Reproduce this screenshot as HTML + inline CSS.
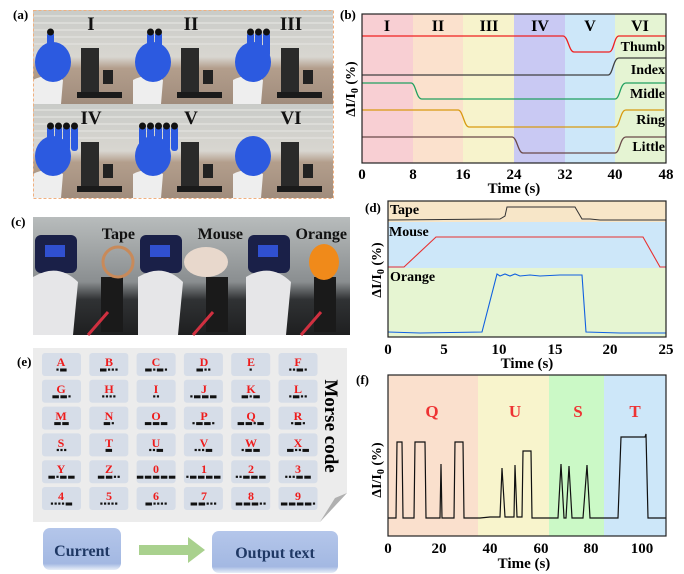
<!DOCTYPE html>
<html><head><meta charset="utf-8"><style>
html,body{margin:0;padding:0;background:#fff;width:684px;height:574px;overflow:hidden}
svg{display:block;font-family:"Liberation Serif",serif;font-weight:bold}
</style></head><body>
<svg id="s" width="684" height="574" viewBox="0 0 684 574" xmlns="http://www.w3.org/2000/svg">
<defs>
<linearGradient id="btn" x1="0" y1="0" x2="0" y2="1"><stop offset="0" stop-color="#b4c6ea"/><stop offset="0.85" stop-color="#a3b8e2"/><stop offset="1" stop-color="#e8eef8"/></linearGradient>
<linearGradient id="ph" x1="0" y1="0" x2="0" y2="1"><stop offset="0" stop-color="#c9cbc8"/><stop offset="0.5" stop-color="#d8d6d0"/><stop offset="0.62" stop-color="#b39e8c"/><stop offset="1" stop-color="#a08c7c"/></linearGradient>
<linearGradient id="ph2" x1="0" y1="0" x2="0" y2="1"><stop offset="0" stop-color="#b8bcbc"/><stop offset="0.55" stop-color="#8a8e90"/><stop offset="0.7" stop-color="#303234"/><stop offset="1" stop-color="#1e1f20"/></linearGradient>
</defs>

<text x="13" y="19" font-size="13">(a)</text>
<text x="340" y="19" font-size="13">(b)</text>
<text x="11" y="226" font-size="13">(c)</text>
<text x="365" y="212" font-size="13">(d)</text>
<text x="17" y="366" font-size="13">(e)</text>
<text x="356" y="384" font-size="13">(f)</text>

<g id="pa"></g>
<rect x="33.5" y="10.5" width="300" height="188" fill="none" stroke="#f0b080" stroke-dasharray="3,2"/>
<g id="pc"></g>

<!-- (b) -->
<g>
<rect x="362" y="14" width="51" height="149" fill="#f8cfd3"/>
<rect x="413" y="14" width="50" height="149" fill="#fbe1cd"/>
<rect x="463" y="14" width="51" height="149" fill="#f7f3cc"/>
<rect x="514" y="14" width="51" height="149" fill="#c9c9f3"/>
<rect x="565" y="14" width="50" height="149" fill="#cde7f9"/>
<rect x="615" y="14" width="51" height="149" fill="#e5f4d3"/>
<g font-size="16" text-anchor="middle"><text x="387" y="31">I</text><text x="438" y="31">II</text><text x="489" y="31">III</text><text x="540" y="31">IV</text><text x="590" y="31">V</text><text x="640" y="31">VI</text></g>
<g fill="none" stroke-width="1.3">
<path d="M362 36 L563 36 C568 36 569 52 574 52 L609 52 C614 52 614 36 619 36 L666 36" stroke="#f02020"/>
<path d="M362 75 L608 75 C613 75 613 58 619 58 L666 58" stroke="#404040"/>
<path d="M362 83 L411 83 C416 83 416 99 422 99 L615 99 C620 99 620 83 626 83 L666 83" stroke="#20a060"/>
<path d="M362 110 L458 110 C463 110 464 127 469 127 L615 127 C620 127 620 110 626 110 L664 110" stroke="#d89a10"/>
<path d="M362 137 L512 137 C517 137 518 153 523 153 L615 153 C620 153 620 137 626 137 L666 137" stroke="#6a4a4a"/>
</g>
<g font-size="14" text-anchor="end"><text x="665" y="51">Thumb</text><text x="665" y="74">Index</text><text x="665" y="98">Midle</text><text x="665" y="124">Ring</text><text x="665" y="151">Little</text></g>
<rect x="362" y="14" width="304" height="149" fill="none" stroke="#222" stroke-width="1.2"/>
<g font-size="15" text-anchor="middle"><text x="362" y="179">0</text><text x="413" y="179">8</text><text x="463" y="179">16</text><text x="514" y="179">24</text><text x="565" y="179">32</text><text x="615" y="179">40</text><text x="666" y="179">48</text>
<text x="514" y="193">Time (s)</text></g>
<text transform="translate(355,89) rotate(-90)" font-size="14" text-anchor="middle">ΔI/I<tspan font-size="10" dy="3">0</tspan><tspan dy="-3"> (%)</tspan></text>
</g>

<!-- (d) -->
<g>
<rect x="388" y="201" width="278" height="21" fill="#f7e6c8"/>
<rect x="388" y="222" width="278" height="46" fill="#cde7f9"/>
<rect x="388" y="268" width="278" height="69" fill="#e6f5d2"/>
<path d="M388 220 L500 219 L505 216 L507 207 L575 207 L582 219 L590 219 L600 220 L666 220" fill="none" stroke="#333" stroke-width="1"/>
<path d="M388 267 L404 267 L436 237 L643 237 L660 267 L666 267" fill="none" stroke="#e83030" stroke-width="1.1"/>
<path d="M388 332 L420 333 L482 332 L497 274 L500 276 L505 274 L510 276 L515 274 L520 276 L530 275 L540 276 L560 275 L582 275 L586 332 L620 333 L666 333" fill="none" stroke="#1060e0" stroke-width="1.1"/>
<g font-size="14"><text x="390" y="214">Tape</text><text x="389" y="236">Mouse</text><text x="390" y="281">Orange</text></g>
<rect x="388" y="201" width="278" height="136" fill="none" stroke="#222" stroke-width="1.2"/>
<g font-size="15" text-anchor="middle"><text x="388" y="354">0</text><text x="444" y="354">5</text><text x="499" y="354">10</text><text x="555" y="354">15</text><text x="610" y="354">20</text><text x="666" y="354">25</text>
<text x="527" y="368">Time (s)</text></g>
<text transform="translate(381,270) rotate(-90)" font-size="14" text-anchor="middle">ΔI/I<tspan font-size="10" dy="3">0</tspan><tspan dy="-3"> (%)</tspan></text>
</g>

<!-- (f) -->
<g>
<rect x="388" y="375" width="90" height="161" fill="#fae0cd"/>
<rect x="478" y="375" width="71" height="161" fill="#f8f4cc"/>
<rect x="549" y="375" width="55" height="161" fill="#cbf9c6"/>
<rect x="604" y="375" width="62" height="161" fill="#cde7f9"/>
<g font-size="17" fill="#ee3333" text-anchor="middle"><text x="432" y="417">Q</text><text x="515" y="417">U</text><text x="578" y="417">S</text><text x="635" y="417">T</text></g>
<path d="M388 518 L396 518 L397 442 L402 442 L403 518 L414 518 L415 442 L425 442 L426 518 L440 518 L441 464 L442 518 L454 518 L455 442 L463 442 L464 518 L480 518 L490 517 L500 517 L502 468 L505 517 L514 517 L515 465 L517 517 L522 517 L523 451 L531 451 L532 518 L555 518 L558 518 L561 464 L564 518 L566 518 L569 466 L572 518 L583 518 L587 465 L590 518 L618 518 L621 437 L645 437 L646 434 L648 518 L666 518" fill="none" stroke="#111" stroke-width="1.2"/>
<rect x="388" y="375" width="278" height="161" fill="none" stroke="#222" stroke-width="1.2"/>
<g font-size="15" text-anchor="middle"><text x="388" y="553">0</text><text x="439" y="553">20</text><text x="490" y="553">40</text><text x="541" y="553">60</text><text x="591" y="553">80</text><text x="642" y="553">100</text>
<text x="524" y="568">Time (s)</text></g>
<text transform="translate(381,470) rotate(-90)" font-size="14" text-anchor="middle">ΔI/I<tspan font-size="10" dy="3">0</tspan><tspan dy="-3"> (%)</tspan></text>
</g>

<!-- (e) -->
<g>
<path d="M33 348 L347 348 L347 493 L320 522 L33 522 Z" fill="#ececec"/>
<path d="M347 493 L320 522 L335 498 Z" fill="#b0b0b0"/>
<g id="cells"></g>
<g font-size="12" fill="#ee1c1c" text-anchor="middle">
<text x="61" y="366">A</text><text x="109" y="366">B</text><text x="156" y="366">C</text><text x="204" y="366">D</text><text x="251" y="366">E</text><text x="298" y="366">F</text>
<text x="61" y="393">G</text><text x="109" y="393">H</text><text x="156" y="393">I</text><text x="204" y="393">J</text><text x="251" y="393">K</text><text x="298" y="393">L</text>
<text x="61" y="420">M</text><text x="109" y="420">N</text><text x="156" y="420">O</text><text x="204" y="420">P</text><text x="251" y="420">Q</text><text x="298" y="420">R</text>
<text x="61" y="447">S</text><text x="109" y="447">T</text><text x="156" y="447">U</text><text x="204" y="447">V</text><text x="251" y="447">W</text><text x="298" y="447">X</text>
<text x="61" y="473">Y</text><text x="109" y="473">Z</text><text x="156" y="473">0</text><text x="204" y="473">1</text><text x="251" y="473">2</text><text x="298" y="473">3</text>
<text x="61" y="500">4</text><text x="109" y="500">5</text><text x="156" y="500">6</text><text x="204" y="500">7</text><text x="251" y="500">8</text><text x="298" y="500">9</text>
</g>
<text transform="translate(325,426) rotate(90)" font-size="19" text-anchor="middle">Morse code</text>
<rect x="43" y="528" width="78" height="42" rx="7" fill="url(#btn)"/>
<text x="82" y="556" font-size="16" fill="#1f3864" text-anchor="middle">Current</text>
<rect x="212" y="531" width="126" height="42" rx="7" fill="url(#btn)"/>
<text x="275" y="558" font-size="16" fill="#1f3864" text-anchor="middle">Output text</text>
<path d="M139 545 L188 545 L188 537 L205 550 L188 563 L188 555 L139 555 Z" fill="#a9d18e"/>
</g>
</svg>
<script>
var S="http://www.w3.org/2000/svg",svg=document.getElementById('s');
function el(p,t,a){var e=document.createElementNS(S,t);for(var k in a)e.setAttribute(k,a[k]);p.appendChild(e);return e;}
var M=[".-","-...","-.-.","-..",".","..-.","--.","....","..",".---","-.-",".-..","--","-.","---",".--.","--.-",".-.","...","-","..-","...-",".--","-..-","-.--","--..","-----",".----","..---","...--","....-",".....","-....","--...","---..","----."];
var g=document.getElementById('cells');
for(var i=0;i<36;i++){var c=i%6,r=Math.floor(i/6);var x=42+c*47.3,y=353+r*26.8;
el(g,'rect',{x:x,y:y,width:39,height:23,rx:3,fill:'#d6dde8'});
var s=M[i],w=0;for(var j=0;j<s.length;j++)w+=(s[j]=='.'?2.2:6.5)+1.5;w-=1.5;
var xx=x+19.5-w/2;for(j=0;j<s.length;j++){var d=s[j]=='.';el(g,'rect',{x:xx,y:y+15.5,width:d?2.2:6.5,height:d?2.2:3,fill:'#111'});xx+=(d?2.2:6.5)+1.5;}}
var pa=document.getElementById('pa');
var fingers=[[1],[1,2],[1,2,3],[1,2,3,4],[0,1,2,3,4],[]];
for(i=0;i<6;i++){var c=i%3,r=Math.floor(i/3),x=33+c*100,y=10+r*94;
el(pa,'rect',{x:x,y:y,width:100,height:94,fill:'url(#ph)'});
for(var k=0;k<5;k++)el(pa,'line',{x1:x,y1:y+6+k*7,x2:x+100,y2:y+6+k*7,stroke:'#e0e0dc','stroke-width':1.5});
el(pa,'path',{d:'M'+(x)+' '+(y+94)+' L'+(x)+' '+(y+70)+' Q'+(x+15)+' '+(y+62)+' '+(x+30)+' '+(y+70)+' L'+(x+28)+' '+(y+94)+' Z',fill:'#eeeeee'});
el(pa,'ellipse',{cx:x+20,cy:y+52,rx:18,ry:20,fill:'#2c5ae0'});
var f=fingers[i];for(k=0;k<f.length;k++){var fx=x+6+f[k]*8;el(pa,'rect',{x:fx,y:y+22,width:7,height:25,rx:3,fill:'#2c5ae0'});el(pa,'circle',{cx:fx+3.5,cy:y+22,r:3.5,fill:'#111'});}
el(pa,'rect',{x:x+48,y:y+38,width:18,height:45,fill:'#2a2a2a'});
el(pa,'rect',{x:x+44,y:y+82,width:45,height:6,fill:'#1a1a1a'});
el(pa,'rect',{x:x+70,y:y+60,width:10,height:14,fill:'#222'});
el(pa,'text',{x:x+58,y:y+20,'font-size':19,'text-anchor':'middle',fill:'#111'}).textContent=['I','II','III','IV','V','VI'][i];}
var pc=document.getElementById('pc');var xs=[33,138,246],ws=[105,108,104],labs=['Tape','Mouse','Orange'],obj=['none','#e8d8cc','#f08a1a'];
for(i=0;i<3;i++){var x=xs[i],w=ws[i],y=217;
el(pc,'rect',{x:x,y:y,width:w,height:118,fill:'url(#ph2)'});
el(pc,'rect',{x:x+2,y:y+18,width:42,height:38,rx:6,fill:'#1a2048'});
el(pc,'rect',{x:x+12,y:y+28,width:20,height:12,fill:'#3050d0'});
el(pc,'path',{d:'M'+x+' '+(y+118)+' L'+x+' '+(y+60)+' Q'+(x+25)+' '+(y+45)+' '+(x+45)+' '+(y+65)+' L'+(x+40)+' '+(y+118)+' Z',fill:'#e6e6e8'});
el(pc,'rect',{x:x+68,y:y+60,width:22,height:55,fill:'#1a1a1a'});
if(i==0)el(pc,'circle',{cx:x+85,cy:y+45,r:15,fill:'none',stroke:'#c88a5a','stroke-width':3});
else el(pc,'ellipse',{cx:x+(i==1?68:78),cy:y+45,rx:(i==1?22:15),ry:(i==1?15:18),fill:obj[i]});
el(pc,'line',{x1:x+55,y1:y+118,x2:x+75,y2:y+95,stroke:'#d03040','stroke-width':3});
el(pc,'text',{x:x+w-3,y:y+22,'font-size':16,'text-anchor':'end',fill:'#111'}).textContent=labs[i];}
</script>
</body></html>
